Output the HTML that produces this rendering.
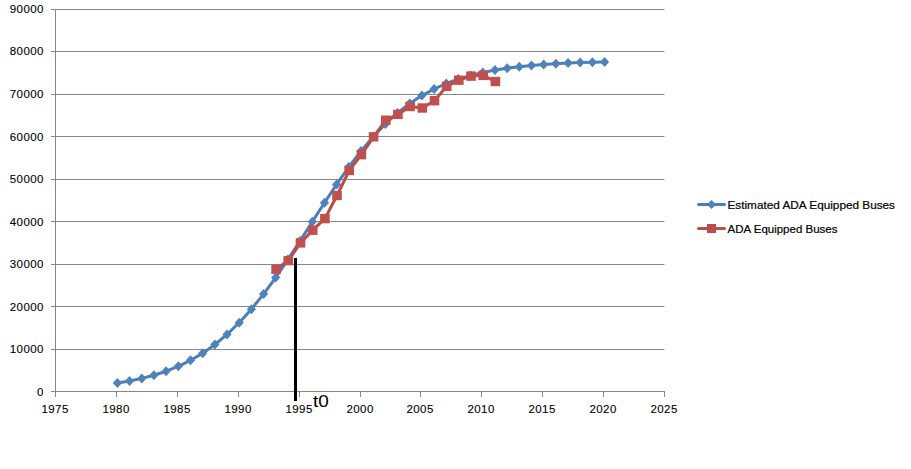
<!DOCTYPE html>
<html><head><meta charset="utf-8"><style>
html,body{margin:0;padding:0;background:#fff;width:911px;height:469px;overflow:hidden}
svg{display:block}
.ax{font-family:"Liberation Sans",sans-serif;font-size:11.5px;fill:#000;letter-spacing:0.42px;stroke:#000;stroke-width:0.1px}
.lg{font-family:"Liberation Sans",sans-serif;font-size:11.5px;fill:#000;stroke:#000;stroke-width:0.2px}
.t0{font-family:"Liberation Sans",sans-serif;font-size:16.5px;fill:#000}
</style></head><body>
<svg width="911" height="469" viewBox="0 0 911 469">
<line x1="51" y1="9.5" x2="664.5" y2="9.5" stroke="#878787" stroke-width="1"/>
<text x="43.9" y="12.80" text-anchor="end" class="ax">90000</text>
<line x1="51" y1="51.5" x2="664.5" y2="51.5" stroke="#878787" stroke-width="1"/>
<text x="43.9" y="55.38" text-anchor="end" class="ax">80000</text>
<line x1="51" y1="94.5" x2="664.5" y2="94.5" stroke="#878787" stroke-width="1"/>
<text x="43.9" y="97.96" text-anchor="end" class="ax">70000</text>
<line x1="51" y1="136.5" x2="664.5" y2="136.5" stroke="#878787" stroke-width="1"/>
<text x="43.9" y="140.54" text-anchor="end" class="ax">60000</text>
<line x1="51" y1="179.5" x2="664.5" y2="179.5" stroke="#878787" stroke-width="1"/>
<text x="43.9" y="183.12" text-anchor="end" class="ax">50000</text>
<line x1="51" y1="221.5" x2="664.5" y2="221.5" stroke="#878787" stroke-width="1"/>
<text x="43.9" y="225.70" text-anchor="end" class="ax">40000</text>
<line x1="51" y1="264.5" x2="664.5" y2="264.5" stroke="#878787" stroke-width="1"/>
<text x="43.9" y="268.28" text-anchor="end" class="ax">30000</text>
<line x1="51" y1="306.5" x2="664.5" y2="306.5" stroke="#878787" stroke-width="1"/>
<text x="43.9" y="310.86" text-anchor="end" class="ax">20000</text>
<line x1="51" y1="349.5" x2="664.5" y2="349.5" stroke="#878787" stroke-width="1"/>
<text x="43.9" y="353.44" text-anchor="end" class="ax">10000</text>
<line x1="51" y1="391.5" x2="664.5" y2="391.5" stroke="#878787" stroke-width="1"/>
<text x="43.9" y="396.02" text-anchor="end" class="ax">0</text>
<line x1="55.5" y1="9" x2="55.5" y2="392" stroke="#878787" stroke-width="1"/>
<line x1="55.5" y1="391" x2="55.5" y2="397" stroke="#878787" stroke-width="1"/>
<text x="55.1" y="413" text-anchor="middle" class="ax">1975</text>
<line x1="116.5" y1="391" x2="116.5" y2="397" stroke="#878787" stroke-width="1"/>
<text x="116.10000000000001" y="413" text-anchor="middle" class="ax">1980</text>
<line x1="177.5" y1="391" x2="177.5" y2="397" stroke="#878787" stroke-width="1"/>
<text x="177.1" y="413" text-anchor="middle" class="ax">1985</text>
<line x1="238.5" y1="391" x2="238.5" y2="397" stroke="#878787" stroke-width="1"/>
<text x="238.1" y="413" text-anchor="middle" class="ax">1990</text>
<line x1="299.5" y1="391" x2="299.5" y2="397" stroke="#878787" stroke-width="1"/>
<text x="299.09999999999997" y="413" text-anchor="middle" class="ax">1995</text>
<line x1="360.5" y1="391" x2="360.5" y2="397" stroke="#878787" stroke-width="1"/>
<text x="360.09999999999997" y="413" text-anchor="middle" class="ax">2000</text>
<line x1="420.5" y1="391" x2="420.5" y2="397" stroke="#878787" stroke-width="1"/>
<text x="420.09999999999997" y="413" text-anchor="middle" class="ax">2005</text>
<line x1="481.5" y1="391" x2="481.5" y2="397" stroke="#878787" stroke-width="1"/>
<text x="481.09999999999997" y="413" text-anchor="middle" class="ax">2010</text>
<line x1="542.5" y1="391" x2="542.5" y2="397" stroke="#878787" stroke-width="1"/>
<text x="542.1" y="413" text-anchor="middle" class="ax">2015</text>
<line x1="603.5" y1="391" x2="603.5" y2="397" stroke="#878787" stroke-width="1"/>
<text x="603.1" y="413" text-anchor="middle" class="ax">2020</text>
<line x1="664.5" y1="391" x2="664.5" y2="397" stroke="#878787" stroke-width="1"/>
<text x="664.1" y="413" text-anchor="middle" class="ax">2025</text>
<polyline points="117.4,383.1 129.6,381.0 141.8,378.4 153.9,375.2 166.1,371.2 178.3,366.3 190.5,360.3 202.7,353.2 214.8,344.6 227.0,334.5 239.2,322.7 251.4,309.2 263.6,294.1 275.7,277.5 287.9,259.6 300.1,240.9 312.3,221.8 324.5,202.8 336.6,184.4 348.8,167.0 361.0,151.1 373.2,136.7 385.4,124.0 397.5,112.9 409.7,103.5 421.9,95.6 434.1,89.0 446.3,83.5 458.4,79.1 470.6,75.4 482.8,72.5 495.0,70.1 507.2,68.2 519.3,66.7 531.5,65.4 543.7,64.5 555.9,63.7 568.1,63.1 580.2,62.6 592.4,62.2 604.6,61.9" fill="none" stroke="#4a7ebb" stroke-width="3" stroke-linejoin="round" stroke-linecap="round"/>
<path d="M117.4 378.1L122.0 383.1L117.4 388.1L112.8 383.1Z" fill="#4f81bd"/>
<path d="M129.6 376.0L134.2 381.0L129.6 386.0L125.0 381.0Z" fill="#4f81bd"/>
<path d="M141.8 373.4L146.4 378.4L141.8 383.4L137.2 378.4Z" fill="#4f81bd"/>
<path d="M153.9 370.2L158.5 375.2L153.9 380.2L149.3 375.2Z" fill="#4f81bd"/>
<path d="M166.1 366.2L170.7 371.2L166.1 376.2L161.5 371.2Z" fill="#4f81bd"/>
<path d="M178.3 361.3L182.9 366.3L178.3 371.3L173.7 366.3Z" fill="#4f81bd"/>
<path d="M190.5 355.3L195.1 360.3L190.5 365.3L185.9 360.3Z" fill="#4f81bd"/>
<path d="M202.7 348.2L207.3 353.2L202.7 358.2L198.1 353.2Z" fill="#4f81bd"/>
<path d="M214.8 339.6L219.4 344.6L214.8 349.6L210.2 344.6Z" fill="#4f81bd"/>
<path d="M227.0 329.5L231.6 334.5L227.0 339.5L222.4 334.5Z" fill="#4f81bd"/>
<path d="M239.2 317.7L243.8 322.7L239.2 327.7L234.6 322.7Z" fill="#4f81bd"/>
<path d="M251.4 304.2L256.0 309.2L251.4 314.2L246.8 309.2Z" fill="#4f81bd"/>
<path d="M263.6 289.1L268.2 294.1L263.6 299.1L259.0 294.1Z" fill="#4f81bd"/>
<path d="M275.7 272.5L280.3 277.5L275.7 282.5L271.1 277.5Z" fill="#4f81bd"/>
<path d="M287.9 254.6L292.5 259.6L287.9 264.6L283.3 259.6Z" fill="#4f81bd"/>
<path d="M300.1 235.9L304.7 240.9L300.1 245.9L295.5 240.9Z" fill="#4f81bd"/>
<path d="M312.3 216.8L316.9 221.8L312.3 226.8L307.7 221.8Z" fill="#4f81bd"/>
<path d="M324.5 197.8L329.1 202.8L324.5 207.8L319.9 202.8Z" fill="#4f81bd"/>
<path d="M336.6 179.4L341.2 184.4L336.6 189.4L332.0 184.4Z" fill="#4f81bd"/>
<path d="M348.8 162.0L353.4 167.0L348.8 172.0L344.2 167.0Z" fill="#4f81bd"/>
<path d="M361.0 146.1L365.6 151.1L361.0 156.1L356.4 151.1Z" fill="#4f81bd"/>
<path d="M373.2 131.7L377.8 136.7L373.2 141.7L368.6 136.7Z" fill="#4f81bd"/>
<path d="M385.4 119.0L390.0 124.0L385.4 129.0L380.8 124.0Z" fill="#4f81bd"/>
<path d="M397.5 107.9L402.1 112.9L397.5 117.9L392.9 112.9Z" fill="#4f81bd"/>
<path d="M409.7 98.5L414.3 103.5L409.7 108.5L405.1 103.5Z" fill="#4f81bd"/>
<path d="M421.9 90.6L426.5 95.6L421.9 100.6L417.3 95.6Z" fill="#4f81bd"/>
<path d="M434.1 84.0L438.7 89.0L434.1 94.0L429.5 89.0Z" fill="#4f81bd"/>
<path d="M446.3 78.5L450.9 83.5L446.3 88.5L441.7 83.5Z" fill="#4f81bd"/>
<path d="M458.4 74.1L463.0 79.1L458.4 84.1L453.8 79.1Z" fill="#4f81bd"/>
<path d="M470.6 70.4L475.2 75.4L470.6 80.4L466.0 75.4Z" fill="#4f81bd"/>
<path d="M482.8 67.5L487.4 72.5L482.8 77.5L478.2 72.5Z" fill="#4f81bd"/>
<path d="M495.0 65.1L499.6 70.1L495.0 75.1L490.4 70.1Z" fill="#4f81bd"/>
<path d="M507.2 63.2L511.8 68.2L507.2 73.2L502.6 68.2Z" fill="#4f81bd"/>
<path d="M519.3 61.7L523.9 66.7L519.3 71.7L514.7 66.7Z" fill="#4f81bd"/>
<path d="M531.5 60.4L536.1 65.4L531.5 70.4L526.9 65.4Z" fill="#4f81bd"/>
<path d="M543.7 59.5L548.3 64.5L543.7 69.5L539.1 64.5Z" fill="#4f81bd"/>
<path d="M555.9 58.7L560.5 63.7L555.9 68.7L551.3 63.7Z" fill="#4f81bd"/>
<path d="M568.1 58.1L572.7 63.1L568.1 68.1L563.5 63.1Z" fill="#4f81bd"/>
<path d="M580.2 57.6L584.8 62.6L580.2 67.6L575.6 62.6Z" fill="#4f81bd"/>
<path d="M592.4 57.2L597.0 62.2L592.4 67.2L587.8 62.2Z" fill="#4f81bd"/>
<path d="M604.6 56.9L609.2 61.9L604.6 66.9L600.0 61.9Z" fill="#4f81bd"/>
<polyline points="276.1,269.2 288.3,260.6 300.5,242.9 312.7,230.2 324.9,218.6 337.0,195.5 349.2,170.5 361.4,154.7 373.6,136.8 385.8,120.2 397.9,114.4 410.1,106.5 422.3,108.0 434.5,100.7 446.7,86.3 458.8,80.2 471.0,76.1 483.2,75.4 495.4,81.5" fill="none" stroke="#be4b48" stroke-width="3" stroke-linejoin="round" stroke-linecap="round"/>
<rect x="271.3" y="264.5" width="9.6" height="9.4" fill="#c0504d"/>
<rect x="283.5" y="255.9" width="9.6" height="9.4" fill="#c0504d"/>
<rect x="295.7" y="238.2" width="9.6" height="9.4" fill="#c0504d"/>
<rect x="307.9" y="225.5" width="9.6" height="9.4" fill="#c0504d"/>
<rect x="320.1" y="213.9" width="9.6" height="9.4" fill="#c0504d"/>
<rect x="332.2" y="190.8" width="9.6" height="9.4" fill="#c0504d"/>
<rect x="344.4" y="165.8" width="9.6" height="9.4" fill="#c0504d"/>
<rect x="356.6" y="150.0" width="9.6" height="9.4" fill="#c0504d"/>
<rect x="368.8" y="132.1" width="9.6" height="9.4" fill="#c0504d"/>
<rect x="381.0" y="115.5" width="9.6" height="9.4" fill="#c0504d"/>
<rect x="393.1" y="109.7" width="9.6" height="9.4" fill="#c0504d"/>
<rect x="405.3" y="101.8" width="9.6" height="9.4" fill="#c0504d"/>
<rect x="417.5" y="103.3" width="9.6" height="9.4" fill="#c0504d"/>
<rect x="429.7" y="96.0" width="9.6" height="9.4" fill="#c0504d"/>
<rect x="441.9" y="81.6" width="9.6" height="9.4" fill="#c0504d"/>
<rect x="454.0" y="75.5" width="9.6" height="9.4" fill="#c0504d"/>
<rect x="466.2" y="71.4" width="9.6" height="9.4" fill="#c0504d"/>
<rect x="478.4" y="70.7" width="9.6" height="9.4" fill="#c0504d"/>
<rect x="490.6" y="76.8" width="9.6" height="9.4" fill="#c0504d"/>
<rect x="294" y="258" width="3" height="143" fill="#000"/>
<text x="313" y="407" class="t0" textLength="15.8" lengthAdjust="spacingAndGlyphs">t0</text>
<line x1="698.5" y1="204.5" x2="724.5" y2="204.5" stroke="#4a7ebb" stroke-width="3" stroke-linecap="round"/>
<path d="M711.5 200L716 204.5L711.5 209L707 204.5Z" fill="#4f81bd"/>
<text x="727.5" y="209" class="lg" textLength="167.5" lengthAdjust="spacingAndGlyphs">Estimated ADA Equipped Buses</text>
<line x1="698.5" y1="228.5" x2="724.5" y2="228.5" stroke="#be4b48" stroke-width="3" stroke-linecap="round"/>
<rect x="707" y="224" width="9" height="9" fill="#be4b48"/>
<text x="727.5" y="233" class="lg">ADA Equipped Buses</text>
</svg></body></html>
